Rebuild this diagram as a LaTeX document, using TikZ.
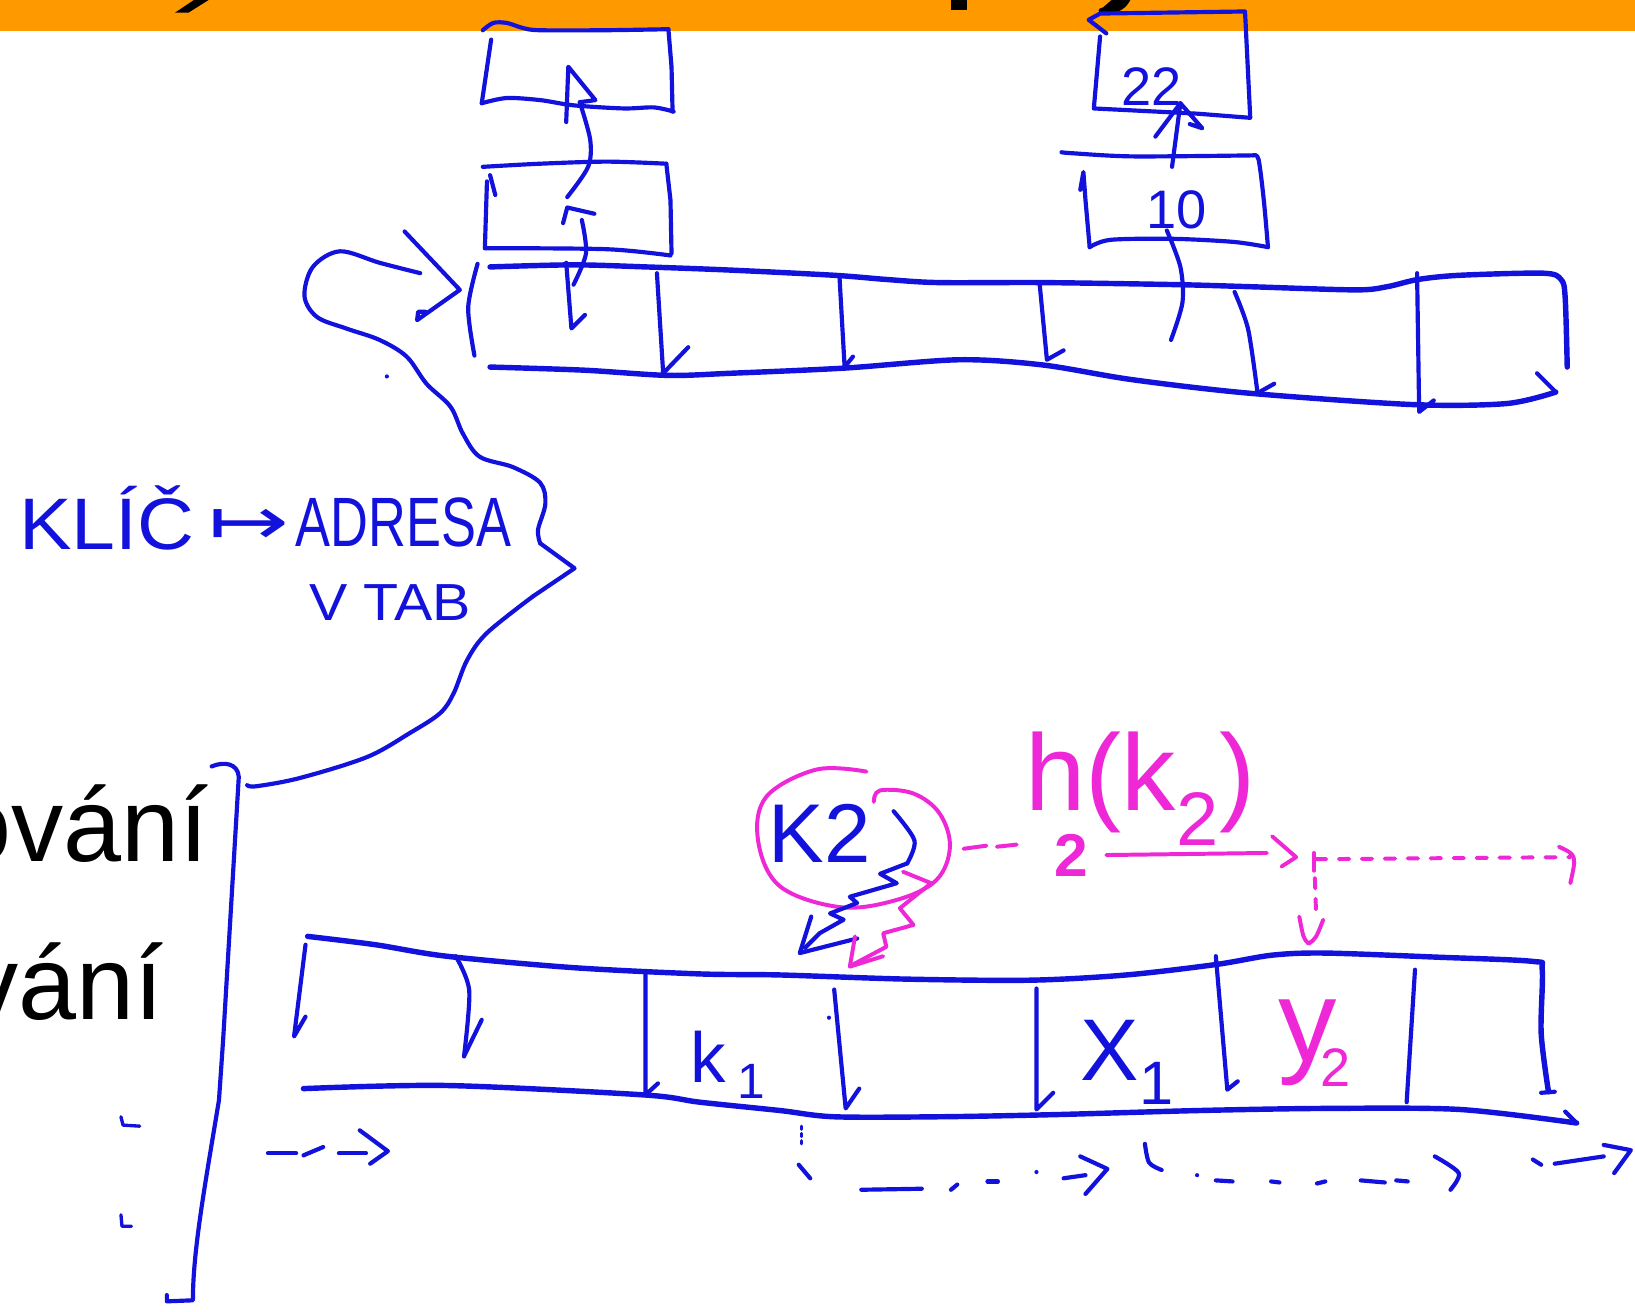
\documentclass[tikz,border=0pt]{standalone}
\usepackage{fontspec}
\setmainfont{Liberation Sans}
\newfontfamily\djv{DejaVu Sans}
\definecolor{inkblue}{RGB}{18,18,220}
\definecolor{inkpink}{RGB}{238,40,215}
\definecolor{band}{RGB}{255,153,0}
\tikzset{
 ink/.style={draw=inkblue,line width=2pt,line cap=round,line join=round},
 tabline/.style={draw=inkblue,line width=2.6pt,line cap=round,line join=round},
 pinkline/.style={draw=inkpink,line width=1.9pt,line cap=round,line join=round},
 hand/.style={text=inkblue,inner sep=0pt},
 handpink/.style={text=inkpink,inner sep=0pt},
 slide/.style={text=black,inner sep=0pt,font=\fontsize{50}{60}\selectfont},
}
\begin{document}
\begin{tikzpicture}[x=0.5pt,y=-0.5pt]
\useasboundingbox (0,0) rectangle (1568,1258);
\clip (0,0) rectangle (1568,1258);
\fill[white] (0,0) rectangle (1568,1258);
% orange title band with cut-off glyph descenders
\fill[band] (0,0) rectangle (1568,30);
\fill[black] (186,0) -- (200,0) -- (181,12) -- (168,12) -- cycle;
\fill[black] (912,0) rectangle (927,10);
\fill[black] (1066,0) -- (1084,0) .. controls (1080,8) and (1072,14) .. (1058,13) .. controls (1052,12) and (1052,8) .. (1058,7) -- cycle;

% slide text
\node[slide, anchor=base east] (w1) at (200,826) {ování};
\node[slide, anchor=base east] (w2) at (157,978) {vání};

% ---------- upper table ----------
\draw[tabline] plot[smooth,tension=0.5] coordinates {(470,256)(550,254)(620,256)(700,259)(800,264)(850,268)(900,271)(1000,271)(1130,273)(1200,275)(1300,278)(1330,275)(1360,268)(1400,264)(1480,262)(1497,268)(1501,285)(1503,352)};
\draw[tabline] plot[smooth,tension=0.5] coordinates {(470,352)(560,355)(640,360)(700,358)(810,353)(920,345)(1000,350)(1085,364)(1197,377)(1355,388)(1445,387)(1492,376)};
\draw[ink] (1492,376) -- (1474,358);
\draw[ink] plot[smooth] coordinates {(458,253)(449,295)(455,341)};
\draw[ink] (630,262) -- (636,358) -- (660,333);
\draw[ink] (805,264) -- (810,352) -- (818,342);
\draw[ink] (997,272) -- (1004,345) -- (1020,336);
\draw[ink] plot[smooth] coordinates {(1184,280)(1197,316)(1206,377)};
\draw[ink] (1206,377) -- (1222,368);
\draw[ink] (1359,262) -- (1361,395) -- (1375,384);

% ---------- top-left boxes ----------
\draw[ink] (471,38) -- (462,99);
\draw[ink] plot[smooth] coordinates {(463,29)(473,22)(486,22)(502,27)(518,29)(580,29)(641,28)};
\draw[ink] (641,28) -- (644,64) -- (645,107);
\draw[ink] plot[smooth] coordinates {(462,99)(486,94)(518,96)(550,101)(598,104)(627,103)(646,107)};
\draw[ink] plot[smooth] coordinates {(463,160)(518,157)(582,155)(639,157)};
\draw[ink] (639,157) -- (643,192) -- (644,243);
\draw[ink] plot[smooth] coordinates {(465,238)(582,239)(643,245)};
\draw[ink] (475,187) -- (470,168);
\draw[ink] (467,174) -- (465,238);
% pointer from table cell up to top box
\draw[ink] (543,117) -- (545,64) -- (571,96) -- (556,98);
\draw[ink] plot[smooth] coordinates {(556,98)(566,134)(564,160)(544,189)};
\draw[ink] (540,214) -- (544,199) -- (570,205);
\draw[ink] plot[smooth] coordinates {(558,211)(562,243)(550,273)};
\draw[ink] (543,252) -- (548,315) -- (561,302);

% ---------- top-right boxes ----------
\draw[ink] (1061,32) -- (1044,19) -- (1055,13) -- (1194,11) -- (1199,113) -- (1148,109) -- (1049,104) -- (1055,35);
\node[hand, font=\fontsize{26}{30}\selectfont] (n22) at (1104,83) {22};
\draw[ink] plot[smooth] coordinates {(1018,146)(1029,147)(1087,150)(1202,149)};
\draw[ink] plot[smooth] coordinates {(1202,149)(1207,153)(1212,192)(1216,237)};
\draw[ink] plot[smooth] coordinates {(1216,237)(1183,232)(1124,229)(1065,230)(1045,237)};
\draw[ink] (1045,237) -- (1041,192) -- (1039,165) -- (1036,182);
\node[hand, font=\fontsize{26}{30}\selectfont] (n10) at (1128,201) {10};
\draw[ink] plot[smooth] coordinates {(1123,326)(1134,290)(1132,256)(1119,221)};
\draw[ink] (1124,160) -- (1132,99);
\draw[ink] (1108,131) -- (1132,99) -- (1153,123) -- (1141,119);

% ---------- brace / loop ----------
\draw[ink] (388,222) -- (441,278) -- (400,307) -- (401,299) -- (408,299);
\draw[ink] plot[smooth,tension=0.55] coordinates {(403,262)(364,252)(326,241)(300,256)(292,284)(304,304)(332,315)(364,326)(390,342)(409,368)(432,390)(444,416)(460,438)(492,448)(518,463)(523,483)(516,508)(518,521)};
\draw[ink] (518,521) -- (551,545) -- (511,572);
\draw[ink] plot[smooth,tension=0.55] coordinates {(511,572)(467,607)(448,633)(435,665)(422,684)(393,703)(352,726)(288,746)(246,754)(237,753)};
\fill[inkblue] (371,361) circle[radius=2];
\node[hand, anchor=base west, font=\fontsize{35}{40}\selectfont] (klic) at (18,527) {\scalebox{1.08}[1]{KLÍČ}};
\node[hand, anchor=base west, font=\djv\fontsize{32}{36}\selectfont] (mapsto) at (200,522) {\scalebox{1.45}[1]{↦}};
\node[hand, anchor=base west, font=\fontsize{33.5}{40}\selectfont] (adresa) at (283,524) {\scalebox{0.75}[1]{ADRESA}};
\node[hand, anchor=base west, font=\fontsize{25}{30}\selectfont] (vtab) at (296,595) {\scalebox{1.1}[1]{V TAB}};

% ---------- bracket at the left ----------
\draw[ink] (203,735) .. controls (215,730) and (228,732) .. (229,745) -- (214,997) -- (210,1055) .. controls (196,1140) and (185,1200) .. (185,1247) -- (160,1248) -- (160,1242);
\draw[ink,line width=1.6pt] (116,1071) -- (118,1079) -- (134,1080);
\draw[ink,line width=1.6pt] (116,1165) -- (117,1176) -- (126,1176);
\draw[ink] (257,1106) -- (284,1106);
\draw[ink] (291,1108) -- (310,1100);
\draw[ink] (325,1106) -- (351,1106);
\draw[ink] (345,1084) -- (372,1104) -- (355,1116);

% ---------- lower table ----------
\draw[tabline] plot[smooth,tension=0.5] coordinates {(295,898)(360,906)(428,917)(550,928)(671,934)(748,935)(870,939)(989,940)(1080,935)(1166,925)(1220,916)(1271,914)(1380,918)(1470,922)(1479,930)(1478,991)(1485,1047)};
\draw[ink] (1478,1048) -- (1491,1047);
\draw[tabline] plot[smooth,tension=0.5] coordinates {(291,1044)(428,1041)(617,1050)(671,1057)(748,1065)(800,1071)(900,1071)(1009,1069)(1150,1065)(1271,1063)(1400,1064)(1512,1077)};
\draw[ink] (1512,1077) -- (1501,1066);
\draw[ink] (293,906) -- (282,994) -- (293,975);
\draw[ink] plot[smooth] coordinates {(437,917)(450,950)(445,1013)};
\draw[ink] (445,1013) -- (462,978);
\draw[ink] (619,933) -- (619,1050) -- (631,1039);
\draw[ink] (800,949) -- (811,1063) -- (824,1044);
\fill[inkblue] (795,976) circle[radius=2];
\draw[ink] (994,948) -- (994,1064) -- (1010,1048);
\draw[ink] (1166,917) -- (1177,1045) -- (1187,1037);
\draw[ink] (1357,930) -- (1349,1057);
\node[hand, anchor=base west, font=\fontsize{34}{40}\selectfont] (k1) at (662,1038) {k\,\textsubscript{1}};
\node[hand, anchor=base west, font=\fontsize{42}{50}\selectfont] (x1) at (1036,1036) {X\textsubscript{1}};
\node[handpink, anchor=base west, font=\fontsize{56}{66}\selectfont] (y2) at (1226,1018) {y\kern-8pt\raisebox{-12pt}{\fontsize{26}{30}\selectfont 2}};

% dashed probing arrows below
\draw[ink,line width=1.5pt,dotted] (769,1080) -- (769,1100);
\draw[ink] (766,1117) -- (777,1130);
\draw[ink] (826,1141) -- (884,1140);
\draw[ink] (912,1141) -- (918,1136);
\draw[ink] (947,1133) -- (957,1133);
\fill[inkblue] (994,1124) circle[radius=2];
\draw[ink] (1020,1130) -- (1041,1127);
\draw[ink] (1036,1109) -- (1062,1121) -- (1041,1145);
\draw[ink] plot[smooth] coordinates {(1098,1097)(1102,1115)(1114,1122)};
\fill[inkblue] (1148,1127) circle[radius=2];
\draw[ink] (1166,1132) -- (1182,1133);
\draw[ink] (1219,1133) -- (1227,1134);
\draw[ink] (1263,1135) -- (1271,1133);
\draw[ink] (1305,1132) -- (1328,1134);
\draw[ink] (1339,1132) -- (1350,1133);
\draw[ink] plot[smooth] coordinates {(1376,1109)(1399,1125)(1391,1141)};
\draw[ink] (1470,1112) -- (1478,1117);
\draw[ink] (1491,1116) -- (1538,1109);
\draw[ink] (1538,1098) -- (1564,1103) -- (1548,1125);

% ---------- key K2 and hashing ----------
\node[hand, font=\fontsize{40}{48}\selectfont] (k2) at (786,799) {K2};
\draw[pinkline] plot[smooth,tension=0.6] coordinates {(831,740)(783,738)(735,764)(727,806)(748,850)(806,870)(860,863)(898,844)(911,812)(901,780)(876,761)(844,758)(838,769)};
\draw[ink] plot[smooth] coordinates {(857,778)(877,806)(870,828)};
\draw[ink] (870,828) -- (844,838) -- (860,847) -- (815,860) -- (822,866) -- (796,876) -- (809,882) -- (786,895) -- (772,909);
\draw[ink] (778,879) -- (767,914) -- (822,900);
\draw[pinkline] (866,836) -- (893,847) -- (863,871) -- (876,887) -- (847,895) -- (850,908) -- (818,925);
\draw[pinkline] (820,898) -- (815,927) -- (847,917);
\draw[pinkline] (924,814) -- (946,811);
\draw[pinkline] (956,812) -- (975,810);
\node[handpink, font=\fontsize{29}{34}\selectfont\bfseries] (two) at (1027,820) {2};
\node[handpink, anchor=base west, font=\fontsize{52}{62}\selectfont] (hk) at (983,777) {h(k\textsubscript{2})};
\draw[pinkline] (1061,820) -- (1215,818);
\draw[pinkline] (1220,802) -- (1243,822) -- (1229,831);
\draw[pinkline, dash pattern=on 5pt off 6pt] (1262,824) -- (1506,822);
\draw[pinkline] (1495,812) .. controls (1512,820) .. (1506,847);
\draw[pinkline] (1260,818) -- (1260,835);
\draw[pinkline, dash pattern=on 5pt off 5pt] (1261,842) -- (1262,872);
\draw[pinkline] (1246,879) .. controls (1250,900) .. (1255,905) .. controls (1262,900) .. (1269,882);
\end{tikzpicture}
\end{document}
